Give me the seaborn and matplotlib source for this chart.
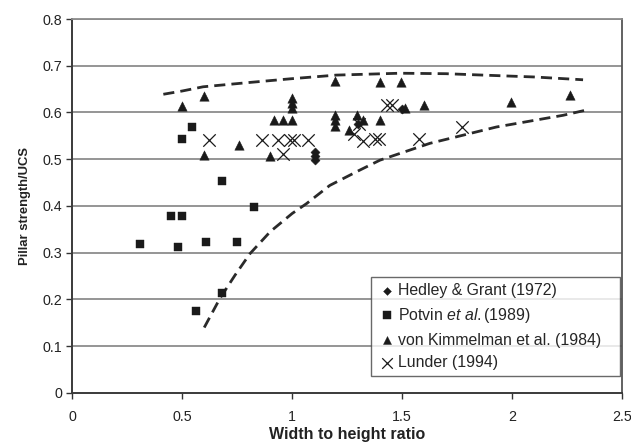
import matplotlib
matplotlib.use("Agg")
import matplotlib.pyplot as plt
import seaborn as sns
import pandas as pd

# Measured pillar strength normalised by UCS, grouped by data source
hedley_x = [1.105, 1.105, 1.105, 1.30, 1.50]
hedley_y = [0.498, 0.507, 0.516, 0.575, 0.608]

potvin_x = [0.308, 0.449, 0.499, 0.479, 0.608, 0.747, 0.826, 0.561, 0.680, 0.497, 0.544, 0.679]
potvin_y = [0.318, 0.379, 0.379, 0.313, 0.323, 0.323, 0.398, 0.175, 0.213, 0.544, 0.569, 0.454]

kimmelman_x = [0.50, 0.60, 0.60, 0.76, 0.897, 0.917, 0.958, 0.999, 0.999, 0.999, 0.999,
               1.196, 1.196, 1.196, 1.196, 1.296, 1.259, 1.32, 1.399, 1.493, 1.399,
               1.515, 1.599, 1.997, 2.265]
kimmelman_y = [0.613, 0.636, 0.509, 0.530, 0.506, 0.583, 0.583, 0.583, 0.610, 0.620, 0.630,
               0.667, 0.572, 0.583, 0.594, 0.594, 0.562, 0.583, 0.665, 0.665, 0.583,
               0.610, 0.615, 0.622, 0.637]

lunder_x = [0.621, 0.865, 0.936, 0.99, 1.01, 1.073, 0.958, 1.429, 1.455, 1.305,
            1.28, 1.323, 1.375, 1.395, 1.577, 1.773]
lunder_y = [0.541, 0.541, 0.541, 0.541, 0.541, 0.541, 0.512, 0.615, 0.615, 0.575,
            0.553, 0.538, 0.544, 0.544, 0.544, 0.569]

# Upper and lower bounding curves (dashed)
upper_x = [0.414, 0.50, 0.595, 0.80, 0.99, 1.20, 1.49, 1.70, 1.868, 2.10, 2.323]
upper_y = [0.639, 0.646, 0.655, 0.664, 0.672, 0.680, 0.684, 0.683, 0.680, 0.676, 0.670]

lower_x = [0.600, 0.671, 0.740, 0.808, 0.90, 1.00, 1.065, 1.171, 1.30, 1.399, 1.626,
           1.929, 2.232, 2.345]
lower_y = [0.140, 0.202, 0.252, 0.298, 0.345, 0.384, 0.405, 0.444, 0.475, 0.498, 0.534,
           0.569, 0.594, 0.606]

labels = ["Hedley & Grant (1972)",
          r"Potvin $\it{et\ al.}$(1989)",
          "von Kimmelman et al. (1984)",
          "Lunder (1994)"]

frames = []
for lab, xs, ys in zip(labels, [hedley_x, potvin_x, kimmelman_x, lunder_x],
                       [hedley_y, potvin_y, kimmelman_y, lunder_y]):
    frames.append(pd.DataFrame({"ratio": xs, "strength": ys, "source": lab}))
data = pd.concat(frames, ignore_index=True)

sns.set_theme(style="white")
plt.rcParams["font.family"] = ["Liberation Sans", "DejaVu Sans"]
plt.rcParams["mathtext.fontset"] = "custom"
plt.rcParams["mathtext.rm"] = "Liberation Sans"
plt.rcParams["mathtext.it"] = "Liberation Sans:italic"

fig = plt.figure(figsize=(6.31, 4.43), dpi=100)
ax = fig.add_axes([0.1146, 0.1129, 0.8711, 0.8442])

# horizontal grid
for g in [0.1, 0.2, 0.3, 0.4, 0.5, 0.6, 0.7, 0.8]:
    ax.axhline(g, color="#8c8c8c", lw=1.3, zorder=0)

sns.lineplot(x=upper_x, y=upper_y, sort=False, estimator=None, ax=ax,
             color="#2a2a2a", lw=2.0, dashes=False, linestyle=(0, (4, 2.2)), zorder=2)
sns.lineplot(x=lower_x, y=lower_y, sort=False, estimator=None, ax=ax,
             color="#2a2a2a", lw=2.0, dashes=False, linestyle=(0, (4, 2.2)), zorder=2)

markers = {labels[0]: "D", labels[1]: "s", labels[2]: "^", labels[3]: "x"}
sizes = {labels[0]: 22, labels[1]: 40, labels[2]: 46, labels[3]: 80}
for lab in labels:
    sub = data[data["source"] == lab]
    sns.scatterplot(data=sub, x="ratio", y="strength", ax=ax, marker=markers[lab],
                    s=sizes[lab], color="#1a1a1a", edgecolor="#1a1a1a",
                    linewidth=0.9 if lab == labels[3] else 0.3, label=lab, zorder=3)

ax.set_xlim(0, 2.5)
ax.set_ylim(0, 0.8)
ax.set_xticks([0, 0.5, 1, 1.5, 2, 2.5])
ax.set_xticklabels(["0", "0.5", "1", "1.5", "2", "2.5"])
ax.set_yticks([0, 0.1, 0.2, 0.3, 0.4, 0.5, 0.6, 0.7, 0.8])
ax.set_yticklabels(["0", "0.1", "0.2", "0.3", "0.4", "0.5", "0.6", "0.7", "0.8"])
ax.tick_params(axis="both", direction="out", length=4.5, width=1.0, colors="#333333",
               labelsize=10.3, labelcolor="#222222", bottom=True, left=True)
ax.tick_params(axis="x", pad=8)
ax.tick_params(axis="y", pad=3)

for side in ["left", "bottom"]:
    ax.spines[side].set_color("#3a3a3a")
    ax.spines[side].set_linewidth(1.4)
ax.spines["right"].set_color("#555555")
ax.spines["right"].set_linewidth(1.3)
ax.spines["top"].set_color("#8c8c8c")
ax.spines["top"].set_linewidth(1.3)

ax.set_xlabel("Width to height ratio", fontsize=11.5, fontweight="bold", color="#222222", labelpad=2)
ax.set_ylabel("Pillar strength/UCS", fontsize=9.4, fontweight="bold", color="#222222", labelpad=8)

leg = ax.legend(loc="lower left", bbox_to_anchor=(0.5428, 0.0455, 0.4536, 0.267),
                mode="expand", frameon=True, fancybox=False, edgecolor="#444444",
                fontsize=11.4, handletextpad=0.08, handlelength=1.3, borderpad=0.35,
                labelspacing=0.5, borderaxespad=0, markerscale=0.85)
leg.get_frame().set_linewidth(1.0)
leg.set_zorder(5)

fig.savefig("out.png", dpi=100, facecolor="white")
